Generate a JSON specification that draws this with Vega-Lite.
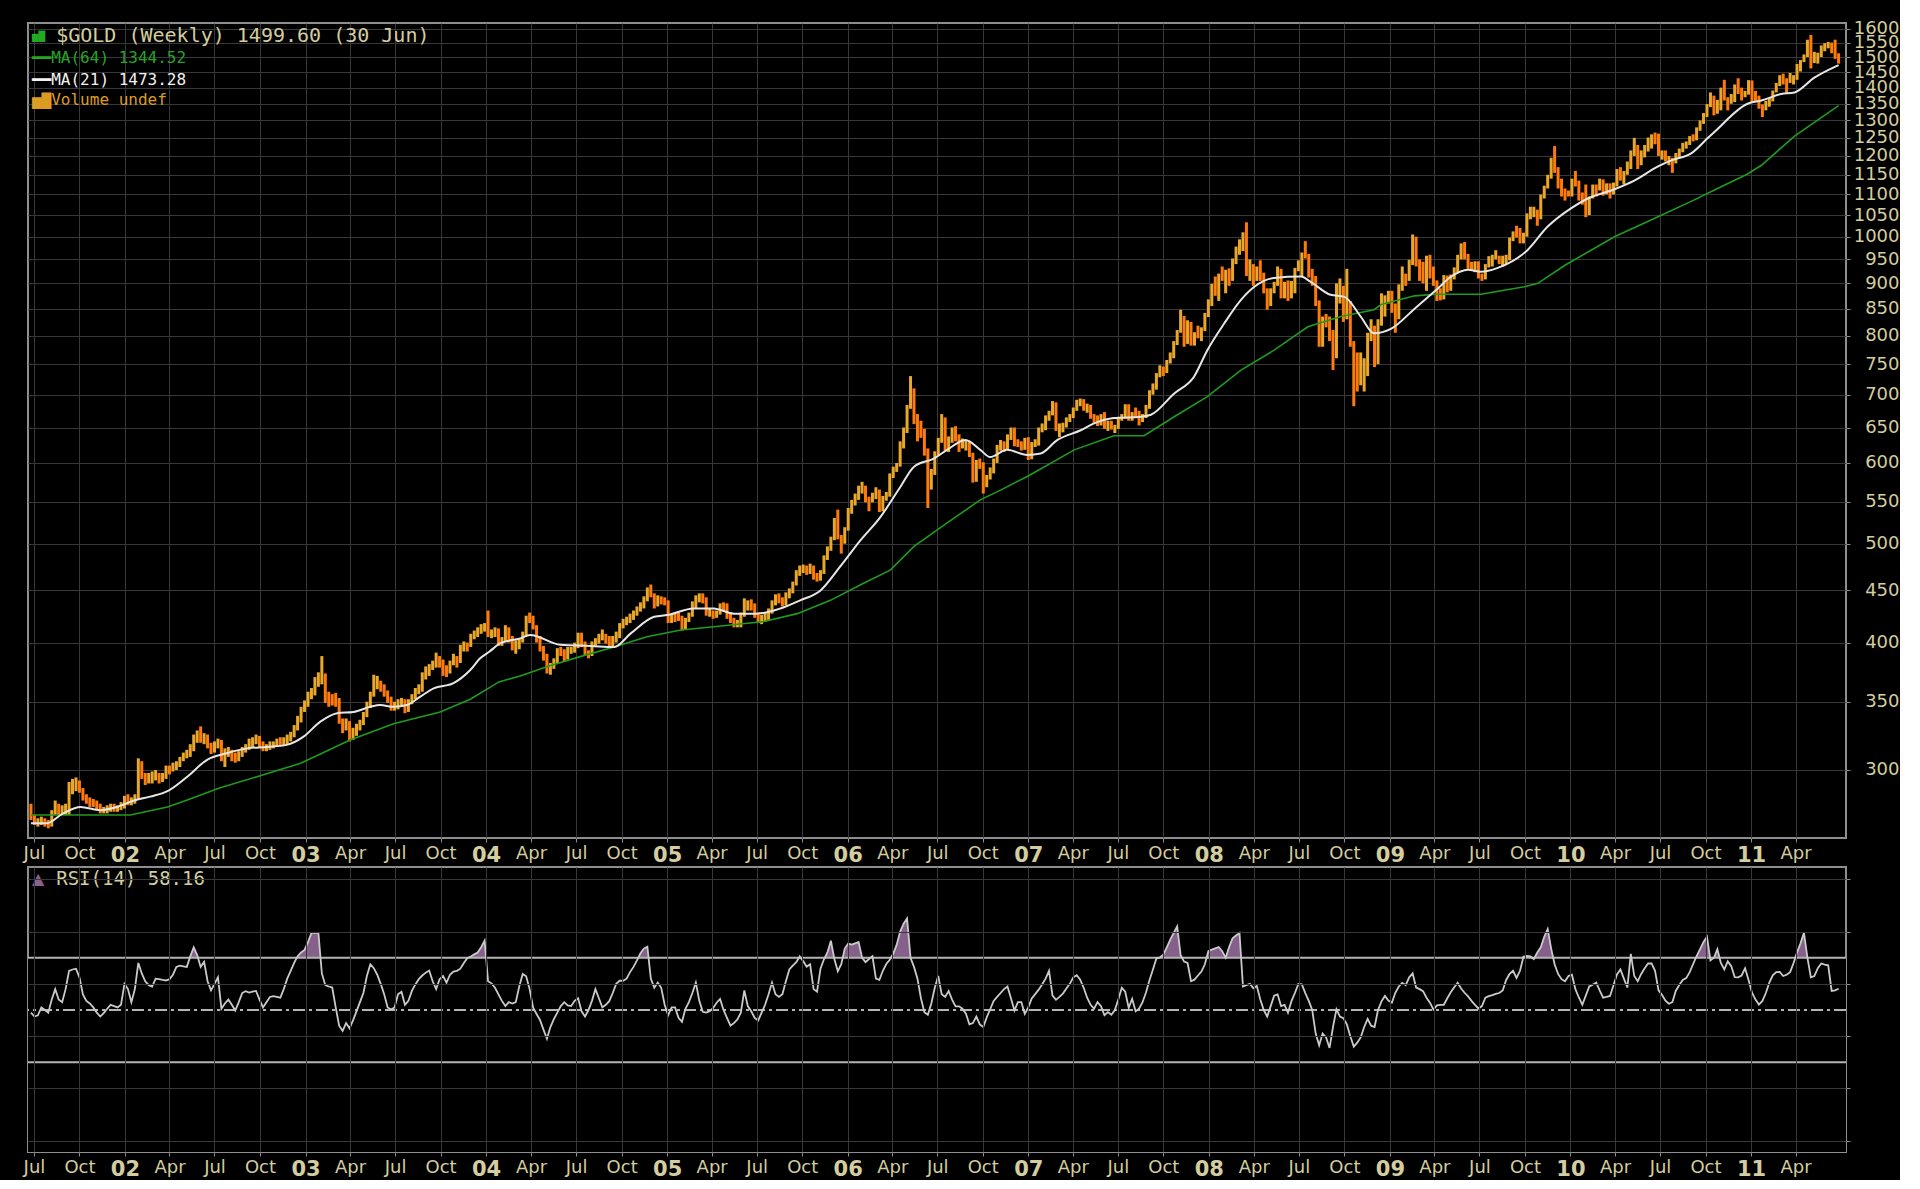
{
  "$schema": "https://vega.github.io/schema/vega-lite/v6.json",
  "background": "#000000",
  "padding": {"left": 22, "top": 18, "right": 0, "bottom": 0},
  "spacing": 29,
  "bounds": "flush",
  "data": {
    "values": "d,o,h,l,c,r\n2001-06-25,274,278,268,270,49\n2001-07-02,270,271,265,267,47.5\n2001-07-09,267,269,264,267,48\n2001-07-16,267,270,265,268,51\n2001-07-23,268,269,264,266,50\n2001-07-30,266,268,263,265,49\n2001-08-06,265,274,264,272,54\n2001-08-13,272,280,271,277,58\n2001-08-20,277,278,271,273,54\n2001-08-27,273,277,271,274,53\n2001-09-03,274,278,271,275,58\n2001-09-10,275,292,271,287,65\n2001-09-17,287,294,284,290,65.5\n2001-09-24,290,295,286,292,65.8\n2001-10-01,292,293,285,287,62.5\n2001-10-08,287,288,280,282,56\n2001-10-15,282,284,278,280,53.5\n2001-10-22,280,282,276,279,52.5\n2001-10-29,279,281,276,278,51\n2001-11-05,278,280,274,276,49\n2001-11-12,276,278,272,273,47.5\n2001-11-19,273,276,272,274,48.8\n2001-11-26,274,277,272,275,50.5\n2001-12-03,275,278,273,276,52\n2001-12-10,276,278,273,275,51.5\n2001-12-17,275,277,273,275,51\n2001-12-24,275,279,274,276,52\n2001-12-31,276,283,275,281,60\n2002-01-07,281,284,277,279,58\n2002-01-14,279,282,277,280,53\n2002-01-21,280,284,278,282,58\n2002-01-28,282,308,281,298,68\n2002-02-04,298,306,294,296,64\n2002-02-11,296,298,290,293,61\n2002-02-18,293,298,291,294,59.5\n2002-02-25,294,299,291,295,59\n2002-03-04,295,300,293,297,62\n2002-03-11,297,298,291,294,61.8\n2002-03-18,294,298,292,296,61.5\n2002-03-25,296,303,294,301,61.3\n2002-04-01,301,303,297,300,61.8\n2002-04-08,300,305,299,302,63.5\n2002-04-15,302,306,300,304,66.5\n2002-04-22,304,309,302,308,67\n2002-04-29,308,312,306,310,66.7\n2002-05-06,310,314,308,311,66.5\n2002-05-13,311,318,309,315,70.5\n2002-05-20,315,325,313,322,74\n2002-05-27,322,328,319,324,71\n2002-06-03,324,331,319,322,66.5\n2002-06-10,322,326,318,323,68.4\n2002-06-17,323,325,315,317,61\n2002-06-24,317,319,311,314,57.5\n2002-07-01,314,320,312,318,60\n2002-07-08,318,322,315,320,62.5\n2002-07-15,320,321,306,309,50.5\n2002-07-22,309,315,302,312,52.5\n2002-07-29,312,316,309,313,54\n2002-08-05,313,314,306,310,52\n2002-08-12,310,312,305,308,49.8\n2002-08-19,308,313,306,311,53\n2002-08-26,311,316,309,314,56.5\n2002-09-02,314,318,312,316,57.2\n2002-09-09,316,322,314,318,56.7\n2002-09-16,318,323,316,320,57\n2002-09-23,320,325,318,322,57.3\n2002-09-30,322,324,316,319,54\n2002-10-07,319,320,313,316,51\n2002-10-14,316,318,313,316,53\n2002-10-21,316,320,314,318,55\n2002-10-28,318,320,315,318,55.3\n2002-11-04,318,322,316,320,55\n2002-11-11,320,323,317,319,54.7\n2002-11-18,319,323,317,320,58\n2002-11-25,320,325,318,323,62\n2002-12-02,323,327,320,325,65\n2002-12-09,325,332,323,330,68\n2002-12-16,330,339,328,336,70.6\n2002-12-23,336,346,334,344,72\n2002-12-30,344,351,342,349,73\n2003-01-06,349,358,346,356,76\n2003-01-13,356,361,352,357,79.5\n2003-01-20,357,370,355,367,79.5\n2003-01-27,367,374,362,368,79.5\n2003-02-03,368,388,364,370,64\n2003-02-10,370,373,349,356,59.5\n2003-02-17,356,358,346,352,59\n2003-02-24,352,356,347,350,58.6\n2003-03-03,350,357,346,349,51\n2003-03-10,349,353,333,336,44\n2003-03-17,336,337,326,330,42\n2003-03-24,330,337,328,334,45\n2003-03-31,334,335,320,325,43\n2003-04-07,325,330,321,327,46\n2003-04-14,327,333,324,331,49.5\n2003-04-21,331,336,328,334,53\n2003-04-28,334,342,332,340,56.5\n2003-05-05,340,350,338,348,63\n2003-05-12,348,358,345,356,67.5\n2003-05-19,356,372,354,364,66\n2003-05-26,364,371,360,364,63.5\n2003-06-02,364,367,358,361,60\n2003-06-09,361,364,354,357,56\n2003-06-16,357,359,349,352,51\n2003-06-23,352,354,343,346,50.2\n2003-06-30,346,350,343,348,51\n2003-07-07,348,352,344,350,56\n2003-07-14,350,353,346,350,57\n2003-07-21,350,352,341,344,52\n2003-07-28,344,352,342,350,53.5\n2003-08-04,350,356,348,354,57.3\n2003-08-11,354,361,352,359,59.8\n2003-08-18,359,364,356,360,61.8\n2003-08-25,360,374,358,371,63.2\n2003-09-01,371,379,368,375,64.3\n2003-09-08,375,381,371,378,65.1\n2003-09-15,378,384,376,381,61\n2003-09-22,381,391,378,386,58\n2003-09-29,386,388,378,383,61.8\n2003-10-06,383,385,371,376,63\n2003-10-13,376,380,370,375,60.5\n2003-10-20,375,384,373,382,63.5\n2003-10-27,382,390,380,386,64.7\n2003-11-03,386,388,378,384,65\n2003-11-10,384,398,382,396,65.8\n2003-11-17,396,401,392,398,68\n2003-11-24,398,400,392,397,69.8\n2003-12-01,397,408,396,405,70.5\n2003-12-08,405,411,403,408,71.3\n2003-12-15,408,414,405,412,72\n2003-12-22,412,417,408,414,74\n2003-12-29,414,418,410,416,76.5\n2004-01-05,416,430,405,408,61\n2004-01-12,408,412,404,408,60.2\n2004-01-19,408,414,405,410,58.5\n2004-01-26,410,413,397,400,56\n2004-02-02,400,405,397,403,53.5\n2004-02-09,403,416,401,412,51.5\n2004-02-16,412,414,400,404,53\n2004-02-23,404,406,393,397,52.5\n2004-03-01,397,402,390,398,53\n2004-03-08,398,404,394,402,59\n2004-03-15,402,410,400,408,63.8\n2004-03-22,408,425,406,423,62.9\n2004-03-29,423,428,418,421,58\n2004-04-05,421,425,412,415,51\n2004-04-12,415,416,400,404,48.5\n2004-04-19,404,406,392,395,46.2\n2004-04-26,395,397,384,387,42.5\n2004-05-03,387,390,373,378,39\n2004-05-10,378,382,372,380,43.5\n2004-05-17,380,386,377,384,46.5\n2004-05-24,384,395,382,393,49\n2004-05-31,393,396,388,391,51.5\n2004-06-07,391,394,383,388,53\n2004-06-14,388,396,385,393,51.8\n2004-06-21,393,396,390,394,51.5\n2004-06-28,394,400,391,397,53.5\n2004-07-05,397,409,395,407,54.5\n2004-07-12,407,409,396,399,49.5\n2004-07-19,399,401,389,392,47.5\n2004-07-26,392,393,386,390,50\n2004-08-02,390,401,388,399,53.5\n2004-08-09,399,404,396,401,58\n2004-08-16,401,408,399,405,54.5\n2004-08-23,405,412,402,405,51\n2004-08-30,405,408,399,404,52\n2004-09-06,404,406,395,398,53.4\n2004-09-13,398,406,396,403,56.5\n2004-09-20,403,410,400,407,60\n2004-09-27,407,418,404,416,61.2\n2004-10-04,416,422,413,420,61.2\n2004-10-11,420,424,416,420,62\n2004-10-18,420,427,418,424,64.5\n2004-10-25,424,430,421,428,66.5\n2004-11-01,428,434,425,432,69\n2004-11-08,432,438,429,435,71.7\n2004-11-15,435,444,432,442,73.5\n2004-11-22,442,453,439,450,74.2\n2004-11-29,450,456,443,445,62\n2004-12-06,445,447,432,437,58.5\n2004-12-13,437,445,434,442,60.5\n2004-12-20,442,444,436,440,58.5\n2004-12-27,440,443,435,438,52\n2005-01-03,438,440,418,421,48\n2005-01-10,421,427,418,424,51\n2005-01-17,424,427,419,423,51\n2005-01-24,423,428,420,422,47\n2005-01-31,422,425,411,414,45.5\n2005-02-07,414,423,412,421,50.5\n2005-02-14,421,428,419,426,53\n2005-02-21,426,439,424,435,56.5\n2005-02-28,435,445,432,441,60.5\n2005-03-07,441,447,438,443,53.5\n2005-03-14,443,447,437,441,49.3\n2005-03-21,441,443,425,427,49\n2005-03-28,427,432,424,428,49.5\n2005-04-04,428,430,422,425,50.8\n2005-04-11,425,430,423,428,52.8\n2005-04-18,428,437,426,435,54.2\n2005-04-25,435,438,430,434,50\n2005-05-02,434,437,422,425,47\n2005-05-09,425,428,418,421,44\n2005-05-16,421,423,414,418,45\n2005-05-23,418,421,414,418,46.4\n2005-05-30,418,428,414,426,49\n2005-06-06,426,442,424,436,57.5\n2005-06-13,436,440,430,436,51.5\n2005-06-20,436,441,430,434,49.5\n2005-06-27,434,437,423,426,47\n2005-07-04,426,428,418,422,46\n2005-07-11,422,426,417,423,49\n2005-07-18,423,428,419,425,52\n2005-07-25,425,432,421,429,56\n2005-08-01,429,440,427,437,60.5\n2005-08-08,437,446,435,442,56\n2005-08-15,442,447,437,440,55\n2005-08-22,440,443,434,438,56\n2005-08-29,438,448,435,445,61\n2005-09-05,445,452,442,450,65.5\n2005-09-12,450,459,447,457,67\n2005-09-19,457,471,455,468,68.3\n2005-09-26,468,476,465,473,70.5\n2005-10-03,473,477,468,473,68.7\n2005-10-10,473,476,466,470,66.6\n2005-10-17,470,478,467,473,67.5\n2005-10-24,473,476,461,465,58\n2005-10-31,465,468,459,464,57\n2005-11-07,464,471,460,469,65.8\n2005-11-14,469,487,467,485,69.4\n2005-11-21,485,497,482,495,72\n2005-11-28,495,508,492,506,76.5\n2005-12-05,506,530,504,526,69.5\n2005-12-12,526,540,505,508,64.8\n2005-12-19,508,510,489,504,67.5\n2005-12-26,504,519,500,517,73.5\n2006-01-02,517,542,515,540,75.4\n2006-01-09,540,552,535,549,75\n2006-01-16,549,560,545,556,75.5\n2006-01-23,556,570,552,567,76\n2006-01-30,567,575,560,567,70\n2006-02-06,567,570,549,553,68.3\n2006-02-13,553,556,538,552,69.5\n2006-02-20,552,561,549,557,70.6\n2006-02-27,557,568,553,563,62\n2006-03-06,563,565,537,540,61.5\n2006-03-13,540,557,538,555,65\n2006-03-20,555,562,551,558,67.6\n2006-03-27,558,586,556,583,69.2\n2006-04-03,583,595,580,592,71.5\n2006-04-10,592,600,588,597,75\n2006-04-17,597,630,595,624,80\n2006-04-24,624,650,620,646,83\n2006-05-01,646,684,642,680,85\n2006-05-08,680,730,678,705,70\n2006-05-15,705,710,655,660,66.5\n2006-05-22,660,670,630,655,62\n2006-05-29,655,660,635,643,54.5\n2006-06-05,643,648,610,615,49.2\n2006-06-12,615,620,542,569,48.2\n2006-06-19,569,592,565,587,52.5\n2006-06-26,587,616,584,613,58.5\n2006-07-03,613,635,610,632,63\n2006-07-10,632,670,628,662,56\n2006-07-17,662,665,617,622,55\n2006-07-24,622,637,615,632,57.3\n2006-07-31,632,650,628,645,54\n2006-08-07,645,652,630,636,51.4\n2006-08-14,636,640,615,625,51.4\n2006-08-21,625,634,620,626,50.5\n2006-08-28,626,632,617,627,48.6\n2006-09-04,627,630,608,612,44.5\n2006-09-11,612,614,574,582,45\n2006-09-18,582,604,575,600,47.5\n2006-09-25,600,606,592,599,44.5\n2006-10-02,599,601,560,573,43.5\n2006-10-09,573,584,568,580,47.2\n2006-10-16,580,594,578,590,50.3\n2006-10-23,590,606,586,603,53.5\n2006-10-30,603,625,600,621,55\n2006-11-06,621,632,617,627,56.5\n2006-11-13,627,630,615,621,58\n2006-11-20,621,640,619,637,59\n2006-11-27,637,650,632,648,54.5\n2006-12-04,648,650,623,629,49.8\n2006-12-11,629,633,622,628,53\n2006-12-18,628,630,617,621,53\n2006-12-25,621,635,618,632,48.5\n2007-01-01,632,636,604,609,51\n2007-01-08,609,629,605,626,54.4\n2007-01-15,626,633,622,627,56.1\n2007-01-22,627,650,624,647,57.8\n2007-01-29,647,656,643,649,59.8\n2007-02-05,649,668,646,665,62\n2007-02-12,665,675,660,672,65\n2007-02-19,672,690,668,681,55.5\n2007-02-26,681,688,645,651,53.9\n2007-03-05,651,656,636,652,55\n2007-03-12,652,657,643,653,56.3\n2007-03-19,653,665,650,662,58.2\n2007-03-26,662,670,658,666,60\n2007-04-02,666,680,664,678,62.5\n2007-04-09,678,692,675,690,63.3\n2007-04-16,690,694,682,690,61.6\n2007-04-23,690,693,675,679,58.5\n2007-04-30,679,686,672,681,54.7\n2007-05-07,681,684,663,667,52\n2007-05-14,667,670,657,663,50.5\n2007-05-21,663,668,652,656,53\n2007-05-28,656,670,653,666,51.5\n2007-06-04,666,673,648,653,48\n2007-06-11,653,660,645,656,49.2\n2007-06-18,656,660,647,650,48.2\n2007-06-25,650,654,642,651,50\n2007-07-02,651,666,648,664,54\n2007-07-09,664,670,660,666,58.5\n2007-07-16,666,685,663,682,57\n2007-07-23,682,685,660,663,50.8\n2007-07-30,663,673,660,669,54.3\n2007-08-06,669,680,664,667,49.5\n2007-08-13,667,675,653,663,50.5\n2007-08-20,663,670,658,667,53\n2007-08-27,667,684,664,681,56.7\n2007-09-03,681,707,678,704,61.4\n2007-09-10,704,718,700,712,65.5\n2007-09-17,712,735,708,732,69.7\n2007-09-24,732,748,728,743,70.1\n2007-10-01,743,746,730,737,71.2\n2007-10-08,737,757,735,754,74\n2007-10-15,754,770,751,764,76.9\n2007-10-22,764,790,760,787,79.5\n2007-10-29,787,810,783,807,82\n2007-11-05,807,848,805,834,71\n2007-11-12,834,836,780,786,68.5\n2007-11-19,786,828,785,820,68\n2007-11-26,820,825,782,787,61\n2007-12-03,787,806,782,803,61.6\n2007-12-10,803,818,795,800,63.2\n2007-12-17,800,815,790,812,64.7\n2007-12-24,812,842,808,838,67.5\n2007-12-31,838,868,834,864,72.5\n2008-01-07,864,899,855,895,73.1\n2008-01-14,895,914,875,883,73.6\n2008-01-21,883,920,865,916,74.1\n2008-01-28,916,935,905,910,72.5\n2008-02-04,910,928,880,924,70\n2008-02-11,924,931,895,908,74.1\n2008-02-18,908,952,905,945,77.4\n2008-02-25,945,978,940,974,78.5\n2008-03-03,974,994,960,975,79.5\n2008-03-10,975,1010,968,1001,59\n2008-03-17,1001,1033,915,920,59.5\n2008-03-24,920,950,905,935,60\n2008-03-31,935,940,895,914,58.3\n2008-04-07,914,935,905,924,59.2\n2008-04-14,924,948,905,916,54\n2008-04-21,916,922,880,887,50\n2008-04-28,887,890,848,862,47.5\n2008-05-05,862,890,855,886,51.5\n2008-05-12,886,903,880,900,55.5\n2008-05-19,900,935,895,925,56\n2008-05-26,925,930,870,888,51.5\n2008-06-02,888,903,870,901,52\n2008-06-09,901,906,865,872,49\n2008-06-16,872,905,870,903,53.4\n2008-06-23,903,932,880,929,56.5\n2008-06-30,929,948,925,933,60\n2008-07-07,933,965,915,960,59.8\n2008-07-14,960,990,952,958,56.5\n2008-07-21,958,962,912,925,53.5\n2008-07-28,925,930,895,913,50\n2008-08-04,913,915,855,863,41\n2008-08-11,863,866,780,786,36.5\n2008-08-18,786,835,780,831,41\n2008-08-25,831,840,815,830,39.5\n2008-09-01,830,835,790,803,35.5\n2008-09-08,803,810,740,764,43.5\n2008-09-15,764,900,760,862,50.3\n2008-09-22,862,910,860,887,47.5\n2008-09-29,887,895,825,832,46.9\n2008-10-06,832,930,830,860,44.5\n2008-10-13,860,865,780,786,40\n2008-10-20,786,790,682,730,36\n2008-10-27,730,770,705,721,37.5\n2008-11-03,721,770,715,735,39.5\n2008-11-10,735,760,705,745,43.5\n2008-11-17,745,805,730,800,46.6\n2008-11-24,800,830,790,815,44\n2008-12-01,815,818,745,752,43.5\n2008-12-08,752,830,750,822,50\n2008-12-15,822,880,818,838,53.3\n2008-12-22,838,876,835,872,55.4\n2008-12-29,872,885,860,879,53.6\n2009-01-05,879,885,842,857,52.8\n2009-01-12,857,860,805,839,56.6\n2009-01-19,839,898,830,895,59\n2009-01-26,895,935,885,918,60.4\n2009-02-02,918,920,895,914,59.5\n2009-02-09,914,949,905,943,62.5\n2009-02-16,943,1005,938,995,64\n2009-02-23,995,1000,935,942,58.6\n2009-03-02,942,950,905,940,58\n2009-03-09,940,945,900,930,57.2\n2009-03-16,930,958,885,953,54.7\n2009-03-23,953,960,910,920,52.8\n2009-03-30,920,935,895,903,50.2\n2009-04-06,903,906,865,880,51.8\n2009-04-13,880,890,866,870,52\n2009-04-20,870,917,868,913,52\n2009-04-27,913,916,882,887,54.5\n2009-05-04,887,918,885,914,56.8\n2009-05-11,914,933,908,929,58.7\n2009-05-18,929,960,923,955,60.4\n2009-05-25,955,985,950,980,58.2\n2009-06-01,980,988,950,958,56.6\n2009-06-08,958,962,930,936,55.2\n2009-06-15,936,945,927,935,53.5\n2009-06-22,935,946,923,941,52\n2009-06-29,941,946,910,913,50.6\n2009-07-06,913,920,905,910,51.5\n2009-07-13,910,940,908,937,54.7\n2009-07-20,937,957,933,953,55.3\n2009-07-27,953,960,935,955,55.7\n2009-08-03,955,970,950,956,56.2\n2009-08-10,956,958,940,946,56.5\n2009-08-17,946,958,935,953,57.5\n2009-08-24,953,960,940,955,61.5\n2009-08-31,955,998,948,995,63.8\n2009-09-07,995,1012,990,1006,65\n2009-09-14,1006,1025,998,1005,62.3\n2009-09-21,1005,1020,985,990,65\n2009-09-28,990,1009,985,1004,70.4\n2009-10-05,1004,1054,1000,1050,70.7\n2009-10-12,1050,1070,1040,1051,70.5\n2009-10-19,1051,1070,1045,1057,69.5\n2009-10-26,1057,1063,1025,1045,72\n2009-11-02,1045,1100,1040,1096,74\n2009-11-09,1096,1122,1090,1119,78\n2009-11-16,1119,1150,1115,1146,81\n2009-11-23,1146,1195,1140,1174,73.5\n2009-11-30,1174,1227,1155,1163,67.5\n2009-12-07,1163,1170,1115,1118,63.8\n2009-12-14,1118,1140,1095,1110,61.8\n2009-12-21,1110,1115,1085,1104,61\n2009-12-28,1104,1110,1095,1097,63\n2010-01-04,1097,1140,1095,1138,63.5\n2010-01-11,1138,1160,1120,1130,58\n2010-01-18,1130,1135,1085,1091,54.8\n2010-01-25,1091,1105,1075,1081,52\n2010-02-01,1081,1125,1045,1050,55.5\n2010-02-08,1050,1095,1050,1091,59\n2010-02-15,1091,1125,1090,1120,59.7\n2010-02-22,1120,1125,1095,1117,60.5\n2010-03-01,1117,1140,1110,1134,57.5\n2010-03-08,1134,1138,1097,1102,54.7\n2010-03-15,1102,1128,1100,1125,55\n2010-03-22,1125,1128,1090,1105,55.4\n2010-03-29,1105,1130,1100,1125,59.5\n2010-04-05,1125,1165,1120,1161,63.6\n2010-04-12,1161,1170,1135,1136,65.5\n2010-04-19,1136,1160,1125,1155,62\n2010-04-26,1155,1185,1150,1180,58.6\n2010-05-03,1180,1215,1165,1210,71.5\n2010-05-10,1210,1250,1200,1228,63\n2010-05-17,1228,1230,1165,1176,61\n2010-05-24,1176,1215,1175,1210,63.8\n2010-05-31,1210,1230,1196,1220,66\n2010-06-07,1220,1251,1212,1230,67.8\n2010-06-14,1230,1260,1220,1258,67.8\n2010-06-21,1258,1265,1232,1256,65\n2010-06-28,1256,1262,1200,1210,57.5\n2010-07-05,1210,1215,1190,1210,55.8\n2010-07-12,1210,1215,1185,1188,53.6\n2010-07-19,1188,1200,1175,1188,52.4\n2010-07-26,1188,1195,1155,1181,53\n2010-08-02,1181,1208,1180,1204,57.4\n2010-08-09,1204,1220,1195,1216,59.6\n2010-08-16,1216,1236,1210,1228,61.5\n2010-08-23,1228,1240,1220,1236,62.2\n2010-08-30,1236,1255,1230,1248,64.5\n2010-09-06,1248,1260,1240,1246,67.6\n2010-09-13,1246,1280,1243,1276,70.6\n2010-09-20,1276,1300,1270,1297,73.3\n2010-09-27,1297,1322,1290,1318,76\n2010-10-04,1318,1349,1310,1346,78\n2010-10-11,1346,1385,1340,1371,69\n2010-10-18,1371,1375,1315,1325,70\n2010-10-25,1325,1362,1320,1357,73.3\n2010-11-01,1357,1400,1330,1397,68\n2010-11-08,1397,1425,1360,1367,65.5\n2010-11-15,1367,1370,1330,1352,68.6\n2010-11-22,1352,1380,1350,1362,66.8\n2010-11-29,1362,1410,1355,1406,62.6\n2010-12-06,1406,1430,1380,1385,62.5\n2010-12-13,1385,1400,1360,1378,63.2\n2010-12-20,1378,1390,1370,1380,66\n2010-12-27,1380,1424,1378,1421,61.5\n2011-01-03,1421,1423,1355,1369,56.6\n2011-01-10,1369,1390,1355,1360,54\n2011-01-17,1360,1375,1335,1342,52.1\n2011-01-24,1342,1348,1310,1336,53.5\n2011-01-31,1336,1359,1330,1349,56.5\n2011-02-07,1349,1368,1341,1361,60.5\n2011-02-14,1361,1391,1357,1388,63.3\n2011-02-21,1388,1415,1385,1410,64.5\n2011-02-28,1410,1440,1405,1430,64.6\n2011-03-07,1430,1445,1410,1421,63\n2011-03-14,1421,1430,1380,1418,63.5\n2011-03-21,1418,1447,1415,1429,64.5\n2011-03-28,1429,1440,1410,1429,68\n2011-04-04,1429,1477,1425,1474,72\n2011-04-11,1474,1490,1452,1486,75.5\n2011-04-18,1486,1509,1483,1504,79.5\n2011-04-25,1504,1560,1500,1556,70\n2011-05-02,1556,1577,1462,1491,62.5\n2011-05-09,1491,1518,1480,1492,63\n2011-05-16,1492,1515,1478,1509,66\n2011-05-23,1509,1540,1500,1536,67.8\n2011-05-30,1536,1548,1520,1542,67.4\n2011-06-06,1542,1552,1530,1543,67.1\n2011-06-13,1543,1550,1513,1540,57.3\n2011-06-20,1540,1560,1494,1501,57.5\n2011-06-27,1501,1513,1478,1499.6,58.16",
    "format": {"type": "csv", "parse": {"d": "date", "o": "number", "h": "number", "l": "number", "c": "number", "r": "number"}}
  },
  "vconcat": [
    {
      "width": 1818,
      "height": 815,
      "layer": [
        {
          "mark": {"type": "rule", "strokeWidth": 3},
          "encoding": {
            "x": {
              "field": "d",
              "type": "temporal",
              "title": null,
              "scale": {"type": "utc", "nice": false, "domain": [{"year": 2001, "month": 6, "date": 19, "utc": true}, {"year": 2011, "month": 7, "date": 12, "utc": true}]},
              "axis": {
                "grid": true,
                "tickCount": {"interval": "month", "step": 3},
                "labelOverlap": false,
                "labelFlush": false,
                "tickSize": 4,
                "labelPadding": 2,
                "labelExpr": "datum.value > utc(2011,5,1) ? '' : (utcmonth(datum.value) == 0 ? utcFormat(datum.value, '%y') : utcFormat(datum.value, '%b'))",
                "labelFontWeight": {"condition": {"test": "utcmonth(datum.value) == 0", "value": "bold"}, "value": "normal"},
                "labelFontSize": {"condition": {"test": "utcmonth(datum.value) == 0", "value": 21}, "value": 18},
                "gridOpacity": {"condition": {"test": "datum.value > utc(2011,5,1)", "value": 0}, "value": 1},
                "tickOpacity": {"condition": {"test": "datum.value > utc(2011,5,1)", "value": 0}, "value": 1}
              }
            },
            "y": {
              "field": "l",
              "type": "quantitative",
              "title": null,
              "scale": {"type": "log", "nice": false, "zero": false, "domain": [257.3, 1620]},
              "axis": {
                "orient": "right",
                "values": [300, 350, 400, 450, 500, 550, 600, 650, 700, 750, 800, 850, 900, 950, 1000, 1050, 1100, 1150, 1200, 1250, 1300, 1350, 1400, 1450, 1500, 1550, 1600],
                "format": "d",
                "grid": true,
                "labelOverlap": false,
                "labelAlign": "right",
                "labelBaseline": "middle",
                "tickSize": 4,
                "labelPadding": 49
              }
            },
            "y2": {"field": "h"},
            "color": {"condition": {"test": "datum.c >= datum.o", "value": "#e9a82a"}, "value": "#ff7a0a"}
          }
        },
        {
          "data": {
            "values": "d,v\n2001-06-25,271\n2001-09-25,271\n2002-01-12,271\n2002-03-28,276\n2002-05-07,280.4\n2002-07-11,288\n2002-09-25,295.5\n2002-12-22,304.6\n2003-01-31,311\n2003-04-01,321\n2003-06-28,333\n2003-09-30,342\n2003-11-30,352\n2004-01-27,366\n2004-03-10,371\n2004-05-04,379\n2004-07-09,387.5\n2004-09-16,396\n2004-11-21,405.3\n2005-01-29,411.5\n2005-04-05,414.6\n2005-06-12,417.8\n2005-07-16,419.4\n2005-09-21,427\n2005-11-27,440\n2006-02-01,457\n2006-03-28,471\n2006-05-15,497\n2006-07-21,524\n2006-09-26,552\n2006-11-05,564\n2006-12-30,582\n2007-04-04,618\n2007-06-23,638\n2007-08-23,638\n2007-10-23,666\n2007-12-29,697\n2008-03-06,740\n2008-05-12,774\n2008-07-19,816\n2008-09-24,835\n2008-11-30,848\n2008-12-14,858\n2009-02-20,875\n2009-04-05,878\n2009-07-04,878\n2009-09-30,893\n2009-10-27,900\n2009-12-20,937\n2010-03-31,1000\n2010-06-27,1046\n2010-09-02,1083\n2010-10-19,1111\n2010-12-25,1152\n2011-01-22,1175\n2011-03-30,1255\n2011-06-27,1344.52",
            "format": {"type": "csv", "parse": {"d": "date", "v": "number"}}
          },
          "mark": {"type": "line", "color": "#1f9c1f", "strokeWidth": 1.6},
          "encoding": {
            "x": {"field": "d", "type": "temporal"},
            "y": {"field": "v", "type": "quantitative"}
          }
        },
        {
          "data": {
            "values": "d,v\n2001-06-25,266\n2001-07-27,266\n2001-08-29,272\n2001-10-03,276\n2001-11-12,274\n2001-12-16,276\n2002-01-19,280\n2002-02-21,282.5\n2002-03-28,286\n2002-05-07,295.5\n2002-06-16,307\n2002-07-26,311.6\n2002-09-05,315\n2002-10-15,316\n2002-11-24,317.5\n2002-12-28,323.5\n2003-01-31,334.6\n2003-03-06,341\n2003-04-08,342\n2003-05-12,346\n2003-06-01,347.4\n2003-06-28,346\n2003-07-25,347.4\n2003-08-21,354\n2003-09-17,360.7\n2003-10-27,365\n2003-11-30,376\n2003-12-20,386\n2004-01-08,392\n2004-01-30,399.4\n2004-03-10,403.8\n2004-03-30,407\n2004-05-30,398\n2004-07-30,397\n2004-09-16,396\n2004-10-20,408.6\n2004-12-06,424\n2005-01-01,425.6\n2005-02-24,432\n2005-04-05,432\n2005-05-16,427\n2005-07-01,427\n2005-08-18,432\n2005-09-27,440\n2005-11-07,450\n2005-12-17,475\n2006-01-27,504\n2006-03-08,531\n2006-04-18,569\n2006-05-15,595\n2006-06-24,606\n2006-07-21,618\n2006-08-27,632\n2006-09-26,618\n2006-10-16,608\n2006-11-19,618\n2006-12-30,611\n2007-01-26,613\n2007-03-01,632\n2007-04-17,646\n2007-05-14,656\n2007-06-23,664\n2007-08-16,666\n2007-09-06,669\n2007-10-23,702\n2007-12-02,729\n2007-12-29,774\n2008-02-01,822\n2008-03-06,867\n2008-04-02,893\n2008-05-12,911\n2008-07-05,914\n2008-07-25,903\n2008-09-03,877\n2008-10-01,873\n2008-11-03,835\n2008-11-30,804\n2009-01-03,812\n2009-02-20,850\n2009-04-05,887\n2009-05-05,914\n2009-06-08,928\n2009-07-04,924\n2009-08-07,932\n2009-10-06,970\n2009-11-15,1022\n2010-01-02,1066\n2010-02-05,1090\n2010-03-31,1113\n2010-05-10,1135\n2010-06-27,1172\n2010-07-24,1188\n2010-09-02,1207\n2010-10-06,1250\n2010-10-20,1268\n2010-12-25,1350\n2011-01-22,1360\n2011-03-03,1380\n2011-03-30,1385\n2011-05-09,1432\n2011-06-27,1473.28",
            "format": {"type": "csv", "parse": {"d": "date", "v": "number"}}
          },
          "mark": {"type": "line", "color": "#e6e6e6", "strokeWidth": 2, "interpolate": "monotone"},
          "encoding": {
            "x": {"field": "d", "type": "temporal"},
            "y": {"field": "v", "type": "quantitative"}
          }
        },
        {
          "data": {"values": [{"t": "▅▇"}]},
          "mark": {"type": "text", "align": "left", "baseline": "middle", "font": "DejaVu Sans Mono", "fontSize": 11, "color": "#22aa22"},
          "encoding": {
            "x": {"datum": {"year": 2001, "month": 6, "date": 27, "utc": true}, "type": "temporal"},
            "y": {"datum": 1573},
            "text": {"field": "t"}
          }
        },
        {
          "data": {"values": [{"t": "$GOLD (Weekly) 1499.60 (30 Jun)"}]},
          "mark": {"type": "text", "align": "left", "baseline": "middle", "font": "DejaVu Sans Mono", "fontSize": 20, "color": "#d3cd9f"},
          "encoding": {
            "x": {"datum": {"year": 2001, "month": 8, "date": 15, "utc": true}, "type": "temporal"},
            "y": {"datum": 1573},
            "text": {"field": "t"}
          }
        },
        {
          "data": {"values": [{"t": "━━MA(64) 1344.52"}]},
          "mark": {"type": "text", "align": "left", "baseline": "middle", "font": "DejaVu Sans Mono", "fontSize": 16, "color": "#25a525"},
          "encoding": {
            "x": {"datum": {"year": 2001, "month": 6, "date": 27, "utc": true}, "type": "temporal"},
            "y": {"datum": 1497},
            "text": {"field": "t"}
          }
        },
        {
          "data": {"values": [{"t": "━━MA(21) 1473.28"}]},
          "mark": {"type": "text", "align": "left", "baseline": "middle", "font": "DejaVu Sans Mono", "fontSize": 16, "color": "#f2f2f2"},
          "encoding": {
            "x": {"datum": {"year": 2001, "month": 6, "date": 27, "utc": true}, "type": "temporal"},
            "y": {"datum": 1424},
            "text": {"field": "t"}
          }
        },
        {
          "data": {"values": [{"t": "▅▇Volume undef"}]},
          "mark": {"type": "text", "align": "left", "baseline": "middle", "font": "DejaVu Sans Mono", "fontSize": 16, "color": "#dc9c22"},
          "encoding": {
            "x": {"datum": {"year": 2001, "month": 6, "date": 27, "utc": true}, "type": "temporal"},
            "y": {"datum": 1361},
            "text": {"field": "t"}
          }
        }
      ]
    },
    {
      "width": 1818,
      "height": 285,
      "layer": [
        {
          "mark": {"type": "area", "color": "#84608a"},
          "encoding": {
            "x": {
              "field": "d",
              "type": "temporal",
              "title": null,
              "scale": {"type": "utc", "nice": false, "domain": [{"year": 2001, "month": 6, "date": 19, "utc": true}, {"year": 2011, "month": 7, "date": 12, "utc": true}]},
              "axis": {
                "grid": true,
                "zindex": 1,
                "tickCount": {"interval": "month", "step": 3},
                "labelOverlap": false,
                "labelFlush": false,
                "tickSize": 4,
                "labelPadding": 2,
                "labelExpr": "datum.value > utc(2011,5,1) ? '' : (utcmonth(datum.value) == 0 ? utcFormat(datum.value, '%y') : utcFormat(datum.value, '%b'))",
                "labelFontWeight": {"condition": {"test": "utcmonth(datum.value) == 0", "value": "bold"}, "value": "normal"},
                "labelFontSize": {"condition": {"test": "utcmonth(datum.value) == 0", "value": 21}, "value": 18},
                "gridOpacity": {"condition": {"test": "datum.value > utc(2011,5,1)", "value": 0}, "value": 1},
                "tickOpacity": {"condition": {"test": "datum.value > utc(2011,5,1)", "value": 0}, "value": 1}
              }
            },
            "y": {
              "field": "r",
              "type": "quantitative",
              "title": null,
              "scale": {"nice": false, "zero": false, "domain": [-4.3, 104.7]},
              "axis": {
                "orient": "right",
                "zindex": 1,
                "values": [0, 10, 20, 30, 40, 50, 60, 70, 80, 90, 100],
                "labelExpr": "datum.value % 20 == 10 ? datum.label : ''",
                "grid": true,
                "labelAlign": "right",
                "labelBaseline": "middle",
                "tickSize": 4,
                "labelPadding": 49
              }
            },
            "y2": {"datum": 70}
          }
        },
        {
          "data": {"values": [{}]},
          "mark": {"type": "rect", "color": "#000000"},
          "encoding": {
            "x": {"datum": {"year": 2001, "month": 6, "date": 19, "utc": true}, "type": "temporal"},
            "x2": {"datum": {"year": 2011, "month": 7, "date": 12, "utc": true}},
            "y": {"datum": 70},
            "y2": {"datum": -4.3}
          }
        },
        {
          "data": {"values": [{"v": 70}, {"v": 30}]},
          "mark": {"type": "rule", "color": "#b4b4b4", "strokeWidth": 2},
          "encoding": {"y": {"field": "v", "type": "quantitative"}}
        },
        {
          "data": {"values": [{"v": 50}]},
          "mark": {"type": "rule", "color": "#b4b4b4", "strokeWidth": 2, "strokeDash": [12, 4, 3, 4]},
          "encoding": {"y": {"field": "v", "type": "quantitative"}}
        },
        {
          "mark": {"type": "line", "color": "#cacaca", "strokeWidth": 1.8},
          "encoding": {
            "x": {"field": "d", "type": "temporal"},
            "y": {"field": "r", "type": "quantitative"}
          }
        },
        {
          "data": {"values": [{"t": "▲"}]},
          "mark": {"type": "text", "align": "left", "baseline": "middle", "font": "DejaVu Sans", "fontSize": 16, "color": "#8a6090"},
          "encoding": {
            "x": {"datum": {"year": 2001, "month": 6, "date": 27, "utc": true}, "type": "temporal"},
            "y": {"datum": 100},
            "text": {"field": "t"}
          }
        },
        {
          "data": {"values": [{"t": "RSI(14) 58.16"}]},
          "mark": {"type": "text", "align": "left", "baseline": "middle", "font": "DejaVu Sans Mono", "fontSize": 19, "color": "#d3cd9f"},
          "encoding": {
            "x": {"datum": {"year": 2001, "month": 8, "date": 15, "utc": true}, "type": "temporal"},
            "y": {"datum": 100},
            "text": {"field": "t"}
          }
        }
      ]
    }
  ],
  "config": {
    "view": {"stroke": "#8e8e8e", "strokeWidth": 2},
    "axis": {
      "labelColor": "#d3cd9f",
      "labelFont": "DejaVu Sans",
      "labelFontSize": 18,
      "gridColor": "#383838",
      "gridWidth": 1,
      "tickColor": "#8e8e8e",
      "domain": false
    }
  }
}
